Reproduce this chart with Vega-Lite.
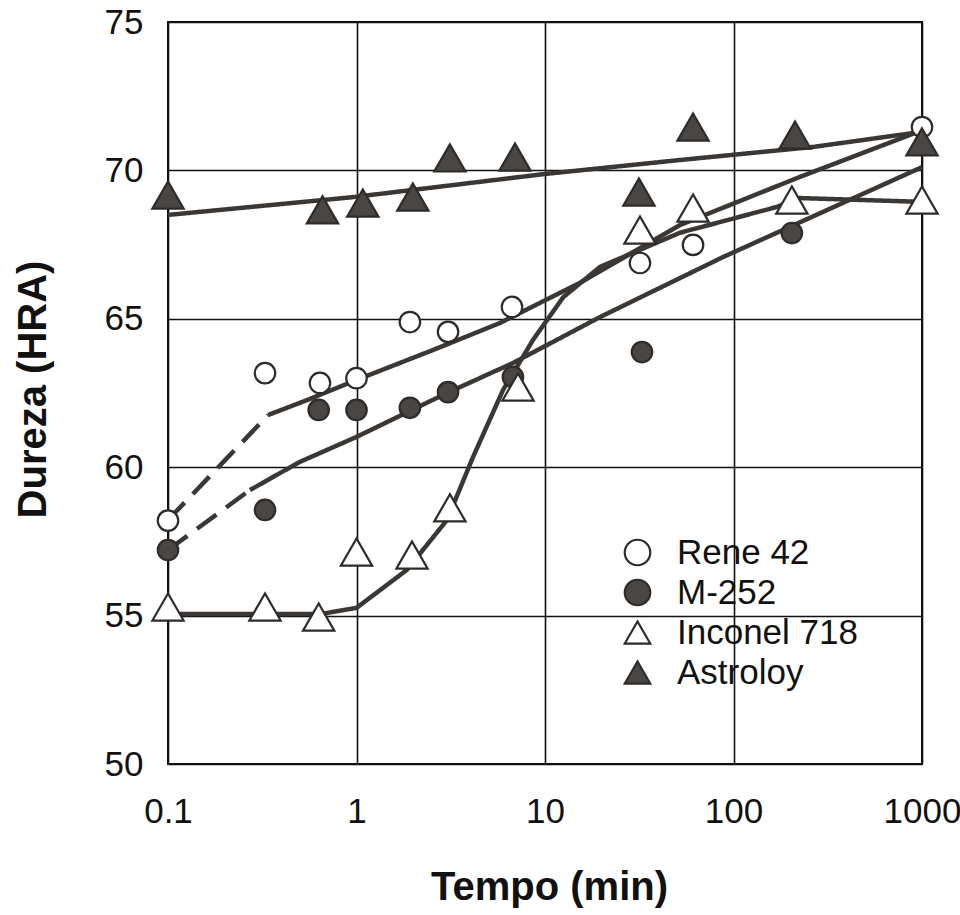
{
  "$schema": "https://vega.github.io/schema/vega-lite/v6.json",
  "width": 754,
  "height": 742,
  "autosize": {"type": "none"},
  "padding": {"left": 168, "top": 22, "right": 38, "bottom": 151},
  "background": "white",
  "config": {
    "font": "Liberation Sans",
    "view": {"stroke": "#111111", "strokeWidth": 2},
    "axis": {
      "domain": false,
      "ticks": false,
      "grid": true,
      "gridColor": "#111111",
      "gridWidth": 1.6,
      "gridOpacity": 1,
      "labelFont": "Liberation Sans",
      "labelFontSize": 35,
      "labelColor": "#111111",
      "labelFlush": false,
      "labelOverlap": false,
      "labelBound": false,
      "titleFont": "Liberation Sans",
      "titleFontSize": 40,
      "titleFontWeight": "bold",
      "titleColor": "#111111"
    },
    "legend": {
      "orient": "none",
      "legendX": 452,
      "legendY": 513,
      "padding": 0,
      "labelFont": "Liberation Sans",
      "labelFontSize": 35,
      "labelColor": "#111111",
      "labelOffset": 22,
      "labelLimit": 0,
      "rowPadding": 4,
      "symbolSize": 650,
      "symbolStrokeWidth": 2.2,
      "symbolStrokeColor": "#2e2b29"
    }
  },
  "datasets": {
    "pts": [
      {"series": "Rene 42", "t": 0.1, "h": 58.2},
      {"series": "Rene 42", "t": 0.327, "h": 63.17},
      {"series": "Rene 42", "t": 0.64, "h": 62.84},
      {"series": "Rene 42", "t": 1.0, "h": 63.0},
      {"series": "Rene 42", "t": 1.92, "h": 64.89},
      {"series": "Rene 42", "t": 3.06, "h": 64.56},
      {"series": "Rene 42", "t": 6.68, "h": 65.4},
      {"series": "Rene 42", "t": 31.9, "h": 66.88},
      {"series": "Rene 42", "t": 61, "h": 67.49},
      {"series": "Rene 42", "t": 1000, "h": 71.46},
      {"series": "M-252", "t": 0.1, "h": 57.21},
      {"series": "M-252", "t": 0.327, "h": 58.56},
      {"series": "M-252", "t": 0.63, "h": 61.93},
      {"series": "M-252", "t": 1.0, "h": 61.93},
      {"series": "M-252", "t": 1.92, "h": 62.0},
      {"series": "M-252", "t": 3.06, "h": 62.53},
      {"series": "M-252", "t": 6.76, "h": 63.04},
      {"series": "M-252", "t": 32.7, "h": 63.88},
      {"series": "M-252", "t": 204, "h": 67.89},
      {"series": "Inconel 718", "t": 0.1, "h": 55.29},
      {"series": "Inconel 718", "t": 0.327, "h": 55.29},
      {"series": "Inconel 718", "t": 0.63, "h": 54.95},
      {"series": "Inconel 718", "t": 1.0, "h": 57.14},
      {"series": "Inconel 718", "t": 1.97, "h": 57.04},
      {"series": "Inconel 718", "t": 3.13, "h": 58.63},
      {"series": "Inconel 718", "t": 7.19, "h": 62.7},
      {"series": "Inconel 718", "t": 31.9, "h": 67.99},
      {"series": "Inconel 718", "t": 61, "h": 68.73},
      {"series": "Inconel 718", "t": 204, "h": 69.0},
      {"series": "Inconel 718", "t": 1000, "h": 69.0},
      {"series": "Astroloy", "t": 0.1, "h": 69.17},
      {"series": "Astroloy", "t": 0.66, "h": 68.67},
      {"series": "Astroloy", "t": 1.08, "h": 68.9},
      {"series": "Astroloy", "t": 1.99, "h": 69.1},
      {"series": "Astroloy", "t": 3.13, "h": 70.42},
      {"series": "Astroloy", "t": 6.93, "h": 70.45},
      {"series": "Astroloy", "t": 31.5, "h": 69.27},
      {"series": "Astroloy", "t": 61, "h": 71.46},
      {"series": "Astroloy", "t": 212, "h": 71.19},
      {"series": "Astroloy", "t": 1000, "h": 70.96}
    ],
    "curves": [
      {"seg": "R1", "style": "dashed", "t": 0.1, "h": 58.22},
      {"seg": "R1", "style": "dashed", "t": 0.34, "h": 61.76},
      {"seg": "R2", "style": "solid", "t": 0.34, "h": 61.76},
      {"seg": "R2", "style": "solid", "t": 0.546, "h": 62.26},
      {"seg": "R2", "style": "solid", "t": 1.0, "h": 62.94},
      {"seg": "R2", "style": "solid", "t": 2.55, "h": 63.95},
      {"seg": "R2", "style": "solid", "t": 5.77, "h": 64.86},
      {"seg": "R2", "style": "solid", "t": 15.3, "h": 66.21},
      {"seg": "R2", "style": "solid", "t": 52, "h": 68.16},
      {"seg": "R2", "style": "solid", "t": 225, "h": 69.78},
      {"seg": "R2", "style": "solid", "t": 1000, "h": 71.35},
      {"seg": "M1", "style": "dashed", "t": 0.1, "h": 57.21},
      {"seg": "M1", "style": "dashed", "t": 0.272, "h": 59.23},
      {"seg": "M2", "style": "solid", "t": 0.272, "h": 59.23},
      {"seg": "M2", "style": "solid", "t": 0.501, "h": 60.18},
      {"seg": "M2", "style": "solid", "t": 1.0, "h": 61.02},
      {"seg": "M2", "style": "solid", "t": 3.02, "h": 62.5},
      {"seg": "M2", "style": "solid", "t": 6.76, "h": 63.51},
      {"seg": "M2", "style": "solid", "t": 19.6, "h": 65.06},
      {"seg": "M2", "style": "solid", "t": 88, "h": 67.08},
      {"seg": "M2", "style": "solid", "t": 1000, "h": 70.11},
      {"seg": "I1", "style": "solid", "t": 0.1, "h": 55.05},
      {"seg": "I1", "style": "solid", "t": 0.64, "h": 55.05},
      {"seg": "I1", "style": "solid", "t": 1.0, "h": 55.26},
      {"seg": "I1", "style": "solid", "t": 1.85, "h": 56.54},
      {"seg": "I1", "style": "solid", "t": 3.02, "h": 58.22},
      {"seg": "I1", "style": "solid", "t": 4.15, "h": 60.34},
      {"seg": "I1", "style": "solid", "t": 5.99, "h": 62.6},
      {"seg": "I1", "style": "solid", "t": 8.64, "h": 64.29},
      {"seg": "I1", "style": "solid", "t": 12.5, "h": 65.73},
      {"seg": "I1", "style": "solid", "t": 19.6, "h": 66.75},
      {"seg": "I1", "style": "solid", "t": 52, "h": 67.9},
      {"seg": "I1", "style": "solid", "t": 170, "h": 68.77},
      {"seg": "I1", "style": "solid", "t": 220, "h": 69.07},
      {"seg": "I1", "style": "solid", "t": 1000, "h": 68.94},
      {"seg": "A1", "style": "solid", "t": 0.1, "h": 68.5},
      {"seg": "A1", "style": "solid", "t": 0.96, "h": 69.1},
      {"seg": "A1", "style": "solid", "t": 10, "h": 69.88},
      {"seg": "A1", "style": "solid", "t": 52, "h": 70.35},
      {"seg": "A1", "style": "solid", "t": 264, "h": 70.79},
      {"seg": "A1", "style": "solid", "t": 1000, "h": 71.3}
    ]
  },
  "encoding": {
    "x": {
      "field": "t",
      "type": "quantitative",
      "scale": {"type": "log", "domain": [0.1, 1000]},
      "axis": {
        "values": [0.1, 1, 10, 100, 1000],
        "format": "~g",
        "labelPadding": 30,
        "title": "Tempo (min)",
        "titleX": 381,
        "titleY": 135,
        "titleBaseline": "alphabetic"
      }
    },
    "y": {
      "field": "h",
      "type": "quantitative",
      "scale": {"domain": [50, 75], "nice": false, "zero": false},
      "axis": {
        "values": [50, 55, 60, 65, 70, 75],
        "labelPadding": 25,
        "title": "Dureza (HRA)",
        "titleX": -135,
        "titleY": 367,
        "titleAngle": -90,
        "titleAlign": "center",
        "titleBaseline": "middle"
      }
    }
  },
  "layer": [
    {
      "data": {"name": "curves"},
      "mark": {"type": "line", "color": "#3a3734", "strokeWidth": 4.5, "strokeCap": "butt", "strokeJoin": "round"},
      "encoding": {
        "detail": {"field": "seg", "type": "nominal"},
        "strokeDash": {
          "field": "style",
          "type": "nominal",
          "scale": {"domain": ["solid", "dashed"], "range": [[1, 0], [24, 12]]},
          "legend": null
        }
      }
    },
    {
      "data": {"name": "pts"},
      "transform": [{"filter": {"field": "series", "oneOf": ["Rene 42", "M-252"]}}],
      "mark": {"type": "point", "filled": true, "opacity": 1, "strokeWidth": 2.2, "size": 420},
      "encoding": {
        "shape": {
          "field": "series",
          "type": "nominal",
          "scale": {"domain": ["Rene 42", "M-252", "Inconel 718", "Astroloy"], "range": ["circle", "circle", "triangle-up", "triangle-up"]},
          "title": null
        },
        "fill": {
          "field": "series",
          "type": "nominal",
          "scale": {"domain": ["Rene 42", "M-252", "Inconel 718", "Astroloy"], "range": ["#ffffff", "#4a4644", "#ffffff", "#4a4644"]},
          "title": null
        },
        "stroke": {
          "field": "series",
          "type": "nominal",
          "scale": {"domain": ["Rene 42", "M-252", "Inconel 718", "Astroloy"], "range": ["#2e2b29", "#2e2b29", "#2e2b29", "#2e2b29"]},
          "title": null
        }
      }
    },
    {
      "data": {"name": "pts"},
      "transform": [{"filter": {"field": "series", "oneOf": ["Inconel 718", "Astroloy"]}}],
      "mark": {"type": "point", "filled": true, "opacity": 1, "strokeWidth": 2.2, "size": 980},
      "encoding": {
        "shape": {
          "field": "series",
          "type": "nominal",
          "scale": {"domain": ["Rene 42", "M-252", "Inconel 718", "Astroloy"], "range": ["circle", "circle", "triangle-up", "triangle-up"]},
          "title": null
        },
        "fill": {
          "field": "series",
          "type": "nominal",
          "scale": {"domain": ["Rene 42", "M-252", "Inconel 718", "Astroloy"], "range": ["#ffffff", "#4a4644", "#ffffff", "#4a4644"]},
          "title": null
        },
        "stroke": {
          "field": "series",
          "type": "nominal",
          "scale": {"domain": ["Rene 42", "M-252", "Inconel 718", "Astroloy"], "range": ["#2e2b29", "#2e2b29", "#2e2b29", "#2e2b29"]},
          "title": null
        }
      }
    }
  ]
}
